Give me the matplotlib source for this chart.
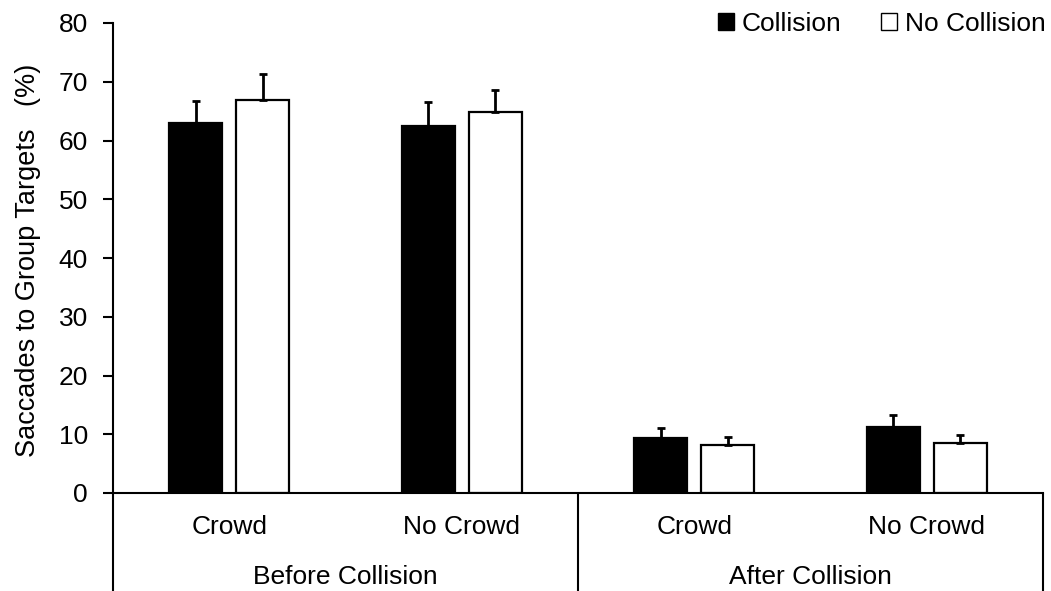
import numpy as np
import matplotlib
matplotlib.use("Agg")
import matplotlib.pyplot as plt
from matplotlib.patches import Patch
import matplotlib.transforms as mtransforms

plt.rcParams['font.family'] = ['Liberation Sans', 'DejaVu Sans']

# conditions, left to right
phases = ["Before Collision", "After Collision"]
crowd_labels = ["Crowd", "No Crowd", "Crowd", "No Crowd"]

collision = [63.0, 62.5, 9.4, 11.2]
collision_err = [3.8, 4.0, 1.7, 2.0]
no_collision = [66.9, 64.8, 8.1, 8.5]
no_collision_err = [4.4, 3.8, 1.5, 1.3]

fs = 19

fig = plt.figure(figsize=(10.51, 5.91), dpi=100)
ax = fig.add_axes([113 / 1051, 98 / 591, 930 / 1051, 470 / 591])

x = np.arange(len(crowd_labels)) + 0.5
w = 0.228
off = 0.144
lw = 1.6
ax.bar(x - off, collision, w, color="black", edgecolor="black", linewidth=lw,
       yerr=[np.zeros(4), collision_err], capsize=3,
       error_kw=dict(ecolor="black", elinewidth=2, capthick=2), zorder=2)
ax.bar(x + off, no_collision, w, color="white", edgecolor="black", linewidth=lw,
       yerr=[np.zeros(4), no_collision_err], capsize=3,
       error_kw=dict(ecolor="black", elinewidth=2, capthick=2), zorder=2)

ax.set_xlim(0, 4)
ax.set_ylim(0, 80)
ax.set_yticks(range(0, 81, 10))
ax.set_xticks([])
ax.tick_params(axis="y", labelsize=fs, length=7, width=1.5, direction="out", pad=11)
ax.set_ylabel("Saccades to Group Targets   (%)", fontsize=19.5, labelpad=13, y=0.495)

for s in ["top", "right"]:
    ax.spines[s].set_visible(False)
ax.spines["left"].set_linewidth(1.5)
ax.spines["bottom"].set_linewidth(1.5)

# two-level category axis below the plot
trans = mtransforms.blended_transform_factory(ax.transData, ax.transAxes)
bottom = -98 / 470
for xv in [0, 2, 4]:
    ax.plot([xv, xv], [0, bottom], transform=trans, color="black", lw=1.5,
            clip_on=False, solid_capstyle="butt")
for xi, lab in zip(x, crowd_labels):
    ax.text(xi, -0.072, lab, transform=trans, ha="center", va="center", fontsize=fs)
for i, lab in enumerate(phases):
    ax.text(2 * i + 1, -0.178, lab, transform=trans, ha="center", va="center", fontsize=fs)

handles = [Patch(facecolor="black", edgecolor="black", label="Collision"),
           Patch(facecolor="white", edgecolor="black", label="No Collision")]
ax.legend(handles=handles, ncol=2, frameon=False, fontsize=fs,
          loc="center right", bbox_to_anchor=(1.003, 0.998),
          handlelength=0.6, handleheight=0.6, handletextpad=0.3, columnspacing=1.5,
          borderaxespad=0, borderpad=0)

fig.savefig("out.png", dpi=100)
